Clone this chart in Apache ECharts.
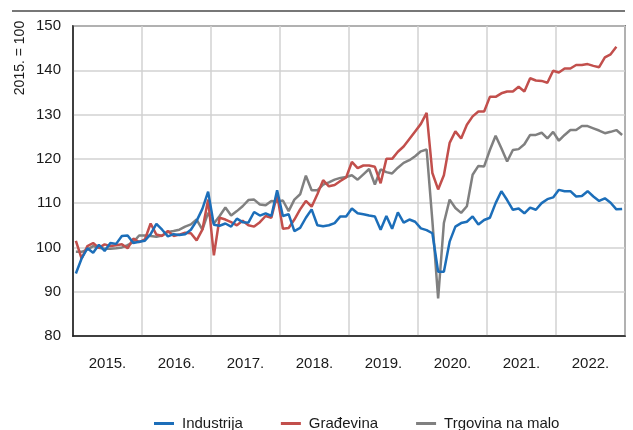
<!DOCTYPE html>
<html>
<head>
<meta charset="utf-8">
<script src="https://cdn.jsdelivr.net/npm/echarts@6/dist/echarts.min.js"></script>
<style>
html,body{margin:0;padding:0;background:#fff;}
#chart{width:633px;height:430px;}
</style>
</head>
<body>
<div id="chart"></div>
<script>
// Year tick labels
var years = ['2015.', '2016.', '2017.', '2018.', '2019.', '2020.', '2021.', '2022.'];
// Monthly categories Jan 2015 - Dec 2022
var months = [];
for (var yi = 2015; yi <= 2022; yi++) { for (var mi = 1; mi <= 12; mi++) { months.push(yi + '-' + (mi < 10 ? '0' + mi : mi)); } }

var industrija = [
  94.1, 97.5, 99.8, 98.8, 100.6, 99.2, 101.0, 100.8, 102.6, 102.7, 101.0, 101.3,
  101.5, 103.0, 105.3, 104.0, 102.5, 103.0, 102.8, 103.0, 104.0, 106.0, 108.7, 112.6,
  105.1, 104.9, 105.4, 104.7, 106.5, 105.7, 105.6, 108.0, 107.2, 107.7, 107.1, 112.9,
  107.1, 107.5, 103.7, 104.4, 106.7, 108.6, 105.0, 104.8, 105.0, 105.5, 107.0, 107.0,
  108.8, 107.7, 107.5, 107.2, 107.0, 104.0, 107.1, 104.2, 107.9, 105.6, 106.3, 105.8,
  104.3, 103.9, 103.2, 94.5, 94.5, 101.3, 104.7, 105.5, 105.8, 107.0, 105.2, 106.2,
  106.7, 110.0, 112.7, 110.7, 108.5, 108.8, 107.7, 109.0, 108.5, 110.0, 110.9, 111.3,
  113.0, 112.7, 112.7, 111.5, 111.6, 112.7, 111.5, 110.5, 111.1, 110.1, 108.6, 108.7
];
var gradjevina = [
  101.5, 97.5, 100.3, 101.0, 99.9, 100.7, 100.3, 100.5, 100.7, 99.8, 102.0, 101.2,
  101.8, 105.4, 102.9, 102.6, 103.7, 102.6, 102.9, 103.3, 103.2, 101.6, 104.0, 110.8,
  98.2, 106.7, 106.3, 105.7, 105.0, 106.0, 105.0, 104.7, 105.7, 107.1, 106.7, 111.9,
  104.2, 104.4, 106.3, 108.6, 110.5, 109.2, 112.0, 115.2, 113.8, 114.1, 115.0, 115.8,
  119.3, 117.9, 118.5, 118.5, 118.2, 114.5, 120.0, 120.0, 121.6, 122.8, 124.5, 126.2,
  127.9, 130.4, 116.8, 113.1, 116.3, 123.6, 126.2, 124.6, 127.7, 129.6, 130.7, 130.7,
  134.0, 134.0, 134.8, 135.2, 135.2, 136.3, 135.2, 138.2, 137.7, 137.6, 137.2, 139.9,
  139.5, 140.4, 140.4, 141.2, 141.2, 141.4, 141.0, 140.7, 142.9, 143.6, 145.3
];
var trgovina = [
  99.0, 99.0, 99.5, 100.3, 99.9, 99.7, 99.7, 99.8, 100.0, 100.5, 101.2, 102.7,
  102.7, 102.6, 102.4, 102.7, 103.5, 103.7, 104.0, 104.7, 105.2, 106.3, 104.0, 107.8,
  105.4, 107.1, 109.0, 107.2, 108.2, 109.3, 110.7, 110.8, 109.7, 109.5, 110.5, 110.3,
  110.6, 108.2, 110.8, 112.0, 116.2, 112.9, 112.9, 114.2, 114.7, 115.3, 115.7, 115.9,
  116.3, 115.3, 116.5, 117.7, 114.2, 117.6, 117.0, 116.7, 118.0, 119.1, 119.7, 120.6,
  121.7, 122.1, 106.0, 88.5, 105.5, 110.8, 108.9, 107.8, 109.3, 116.4, 118.4, 118.3,
  122.0, 125.2, 122.4, 119.4, 122.0, 122.2, 123.3, 125.4, 125.4, 125.9, 124.6, 126.1,
  124.1, 125.4, 126.5, 126.5, 127.4, 127.4, 126.9, 126.4, 125.8, 126.1, 126.5, 125.4
];
var seriesNames = ['Industrija', 'Građevina', 'Trgovina na malo'];
var colors = ['#1c6eb9', '#c24f4c', '#808080'];

var FONT = '"Liberation Sans", Arial, sans-serif';
var chart = echarts.init(document.getElementById('chart'), null, {renderer: 'canvas'});
var lineSeries = [industrija, gradjevina, trgovina].map(function (d, i) {
  return {
    name: seriesNames[i], type: 'line', xAxisIndex: 1, data: d,
    showSymbol: false, symbol: 'none', smooth: false,
    lineStyle: {color: colors[i], width: 2.5}, itemStyle: {color: colors[i]},
    z: 3 + (2 - i)
  };
});
chart.setOption({
  animation: false,
  color: colors,
  grid: {left: 73, right: 8, top: 26, bottom: 94, show: true, borderColor: '#1a1a1a', borderWidth: 1.5, backgroundColor: 'transparent'},
  legend: {
    left: 149, top: 411, itemGap: 38, itemWidth: 20, itemHeight: 3, icon: 'rect',
    data: seriesNames,
    textStyle: {fontFamily: FONT, fontSize: 15, color: '#1a1a1a', padding: [0, 0, 0, 3]}
  },
  xAxis: [
    {
      type: 'category', data: years, boundaryGap: true, position: 'bottom',
      axisLine: {show: true, lineStyle: {color: '#1a1a1a', width: 1.5}},
      axisTick: {show: false},
      axisLabel: {fontFamily: FONT, fontSize: 15, color: '#1a1a1a', margin: 20},
      splitLine: {show: true, lineStyle: {color: '#d2d2d2', width: 1.5}}
    },
    {
      type: 'category', data: months, boundaryGap: true, show: false
    }
  ],
  yAxis: {
    type: 'value', min: 80, max: 150, interval: 10,
    axisLine: {show: true, lineStyle: {color: '#1a1a1a', width: 1.5}},
    axisTick: {show: false},
    axisLabel: {fontFamily: FONT, fontSize: 15, color: '#1a1a1a', margin: 12},
    splitLine: {show: true, lineStyle: {color: '#d2d2d2', width: 1.5}}
  },
  graphic: [
    {type: 'line', shape: {x1: 12, y1: 11, x2: 625, y2: 11}, style: {stroke: '#4a4a4a', lineWidth: 1.5}},
    {type: 'text', x: 20, y: 58, rotation: Math.PI / 2,
     style: {text: '2015. = 100', font: '14px ' + FONT, fill: '#1a1a1a', textAlign: 'center', textVerticalAlign: 'middle'}}
  ],
  series: lineSeries
});
</script>
</body>
</html>
